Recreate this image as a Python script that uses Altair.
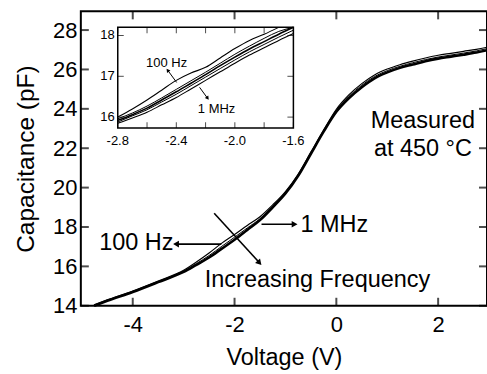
import altair as alt
import pandas as pd

FONT = "Liberation Sans"

# ---------------- main C-V curves ----------------
volt = [-4.76, -4.5, -4.0, -3.5, -3.0, -2.75, -2.5, -2.25, -2.0, -1.75, -1.5, -1.25, -1.0,
        -0.75, -0.5, -0.25, 0.0, 0.25, 0.5, 0.75, 1.0, 1.25, 1.5, 1.75, 2.0, 2.25, 2.5, 2.75, 3.0]
cap_100hz = [14.05, 14.3, 14.75, 15.26, 15.8, 16.22, 16.68, 17.18, 17.62, 18.08, 18.52, 19.12, 19.8,
             20.68, 21.8, 22.92, 23.98, 24.72, 25.28, 25.72, 26.02, 26.24, 26.42, 26.58, 26.72, 26.82, 26.92, 27.02, 27.15]
cap_mid = [14.02, 14.27, 14.72, 15.22, 15.75, 16.14, 16.55, 17.02, 17.48, 17.95, 18.42, 19.05, 19.74,
           20.64, 21.76, 22.88, 23.92, 24.64, 25.2, 25.64, 25.94, 26.16, 26.34, 26.5, 26.63, 26.73, 26.83, 26.94, 27.08]
cap_1mhz = [14.0, 14.25, 14.7, 15.2, 15.72, 16.08, 16.45, 16.9, 17.35, 17.85, 18.35, 19.0, 19.7,
            20.6, 21.72, 22.84, 23.85, 24.55, 25.1, 25.55, 25.85, 26.08, 26.25, 26.42, 26.55, 26.65, 26.75, 26.86, 27.0]

x_domain = [-5.02, 2.96]
y_domain = [14, 28.95]
x_ticks = [-4, -2, 0, 2]
y_ticks = [14, 16, 18, 20, 22, 24, 26, 28]

# annotation texts (centre positions)
ann_text = ["100 Hz", "1 MHz", "Increasing Frequency", "Measured", "at 450 °C"]
ann_v = [-3.93, -0.04, -0.37, 1.70, 1.70]
ann_c = [16.83, 17.74, 14.96, 23.04, 21.63]

# arrows: tail -> head
arr_v1 = [-2.26, -1.47, -2.40]
arr_c1 = [17.13, 18.14, 18.70]
arr_v2 = [-3.15, -0.82, -1.51]
arr_c2 = [17.13, 18.14, 16.18]
arr_angle = [180, 0, 48]

# ---------------- inset ----------------
in_volt = [-2.8, -2.7, -2.6, -2.5, -2.4, -2.3, -2.2, -2.1, -2.0, -1.9, -1.8, -1.7, -1.6]
in_c1 = [16.0, 16.2, 16.42, 16.66, 16.9, 17.08, 17.22, 17.45, 17.68, 17.88, 18.03, 18.2, None]
in_c2 = [15.96, 16.1, 16.27, 16.47, 16.68, 16.89, 17.1, 17.32, 17.54, 17.74, 17.93, 18.1, 18.2]
in_c3 = [15.92, 16.06, 16.22, 16.42, 16.62, 16.83, 17.04, 17.26, 17.47, 17.67, 17.85, 18.03, 18.2]
in_c4 = [15.88, 16.03, 16.18, 16.37, 16.56, 16.77, 16.98, 17.19, 17.4, 17.6, 17.78, 17.96, 18.13]
in_c5 = [15.85, 15.98, 16.12, 16.3, 16.48, 16.69, 16.9, 17.11, 17.32, 17.52, 17.7, 17.88, 18.05]

in_x_domain = [-2.8, -1.6]
in_y_domain = [15.73, 18.2]
in_x_ticks = [-2.8, -2.6, -2.4, -2.2, -2.0, -1.8, -1.6]
in_x_label_vals = [-2.8, -2.4, -2.0, -1.6]
in_x_label_text = ["-2.8", "-2.4", "-2.0", "-1.6"]
in_y_ticks = [16, 17, 18]
in_y_label_text = ["16", "17", "18"]

in_ann_text = ["100 Hz", "1 MHz"]
in_ann_v = [-2.466, -2.125]
in_ann_c = [17.22, 16.10]
in_arr_v1 = [-2.398, -2.241]
in_arr_c1 = [16.85, 16.73]
in_arr_v2 = [-2.459, -2.186]
in_arr_c2 = [17.15, 16.46]
in_arr_angle = [234, 54]

W, H = 407, 295
INSET_X_RANGE = [37, 213]
INSET_Y_RANGE = [117, 16]

# ---------------- main encodings ----------------
xs = alt.Scale(domain=x_domain, nice=False, zero=False)
ys = alt.Scale(domain=y_domain, nice=False, zero=False)
xaxis = alt.Axis(values=x_ticks, ticks=False, domain=False, grid=False, labelFontSize=22,
                 labelPadding=9, labelExpr="'' + datum.value", title="Voltage (V)",
                 titleFontSize=23.5, titleFontWeight="normal", titlePadding=10,
                 labelFont=FONT, titleFont=FONT)
yaxis = alt.Axis(values=y_ticks, ticks=False, domain=False, grid=False, labelFontSize=22,
                 labelPadding=4, labelExpr="'' + datum.value", title="Capacitance (pF)",
                 titleFontSize=24.5, titleFontWeight="normal", titlePadding=14,
                 labelFont=FONT, titleFont=FONT)


def X(f="V"):
    return alt.X(f, type="quantitative", scale=xs, axis=xaxis)


def Y(f="C"):
    return alt.Y(f, type="quantitative", scale=ys, axis=yaxis)


curves = pd.concat([
    pd.DataFrame({"V": volt, "C": cap_100hz, "s": "100 Hz"}),
    pd.DataFrame({"V": volt, "C": cap_mid, "s": "mid"}),
    pd.DataFrame({"V": volt, "C": cap_1mhz, "s": "1 MHz"}),
])
widths = {"100 Hz": 1.2, "mid": 1.0, "1 MHz": 2.6}
main_layers = []
for s, w in widths.items():
    main_layers.append(
        alt.Chart(curves[curves.s == s]).mark_line(color="black", strokeWidth=w, interpolate="monotone")
        .encode(x=X(), y=Y())
    )

# edge ticks (inward)
bt = pd.DataFrame({"V": x_ticks, "C": [y_domain[0]] * len(x_ticks)})
tt = pd.DataFrame({"V": x_ticks, "C": [y_domain[1]] * len(x_ticks)})
lt = pd.DataFrame({"V": [x_domain[0]] * len(y_ticks), "C": y_ticks})
rt = pd.DataFrame({"V": [x_domain[1]] * len(y_ticks), "C": y_ticks})
main_layers += [
    alt.Chart(bt).mark_tick(orient="vertical", size=8, thickness=2, yOffset=-4, color="black").encode(x=X(), y=Y()),
    alt.Chart(tt).mark_tick(orient="vertical", size=8, thickness=2, yOffset=4, color="black").encode(x=X(), y=Y()),
    alt.Chart(lt).mark_tick(orient="horizontal", size=8, thickness=2, xOffset=4, color="black").encode(x=X(), y=Y()),
    alt.Chart(rt).mark_tick(orient="horizontal", size=8, thickness=2, xOffset=-4, color="black").encode(x=X(), y=Y()),
]

ann = pd.DataFrame({"V": ann_v, "C": ann_c, "t": ann_text})
main_layers.append(
    alt.Chart(ann).mark_text(font=FONT, fontSize=23.5, align="center", baseline="alphabetic", color="black")
    .encode(x=X(), y=Y(), text="t:N")
)

arr = pd.DataFrame({"V": arr_v1, "C": arr_c1, "V2": arr_v2, "C2": arr_c2})
main_layers.append(
    alt.Chart(arr).mark_rule(color="black", strokeWidth=1.6)
    .encode(x=X(), y=Y(), x2=alt.X2("V2"), y2=alt.Y2("C2"))
)
for i, ang in enumerate(arr_angle):
    head = pd.DataFrame({"V": [arr_v2[i]], "C": [arr_c2[i]]})
    main_layers.append(
        alt.Chart(head).mark_point(shape="triangle-right", angle=ang, size=45, filled=True,
                                   color="black", opacity=1)
        .encode(x=X(), y=Y())
    )

main = alt.layer(*main_layers)

# ---------------- inset encodings ----------------
ixs = alt.Scale(domain=in_x_domain, range=INSET_X_RANGE, nice=False, zero=False)
iys = alt.Scale(domain=in_y_domain, range=INSET_Y_RANGE, nice=False, zero=False)


def IX(f="v"):
    return alt.X(f, type="quantitative", scale=ixs, axis=None)


def IY(f="c"):
    return alt.Y(f, type="quantitative", scale=iys, axis=None)


inset_layers = []
frame = pd.DataFrame({"v": [in_x_domain[0]], "v2": [in_x_domain[1]],
                      "c": [in_y_domain[0]], "c2": [in_y_domain[1]]})
inset_layers.append(
    alt.Chart(frame).mark_rect(fill="white", stroke="black", strokeWidth=1.5)
    .encode(x=IX(), x2=alt.X2("v2"), y=IY(), y2=alt.Y2("c2"))
)
in_series = [in_c1, in_c2, in_c3, in_c4, in_c5]
in_widths = [1.1, 1.0, 1.6, 1.0, 1.1]
for k, (ser, w) in enumerate(zip(in_series, in_widths)):
    df = pd.DataFrame({"v": in_volt, "c": ser}).dropna()
    inset_layers.append(
        alt.Chart(df).mark_line(color="black", strokeWidth=w, interpolate="monotone").encode(x=IX(), y=IY())
    )

ibt = pd.DataFrame({"v": in_x_ticks, "c": [in_y_domain[0]] * len(in_x_ticks)})
itt = pd.DataFrame({"v": in_x_ticks, "c": [in_y_domain[1]] * len(in_x_ticks)})
ilt = pd.DataFrame({"v": [in_x_domain[0]] * len(in_y_ticks), "c": in_y_ticks})
irt = pd.DataFrame({"v": [in_x_domain[1]] * len(in_y_ticks), "c": in_y_ticks})
inset_layers += [
    alt.Chart(ibt).mark_tick(orient="vertical", size=6, thickness=1, yOffset=-3, color="black").encode(x=IX(), y=IY()),
    alt.Chart(itt).mark_tick(orient="vertical", size=6, thickness=1, yOffset=3, color="black").encode(x=IX(), y=IY()),
    alt.Chart(ilt).mark_tick(orient="horizontal", size=6, thickness=1, xOffset=3, color="black").encode(x=IX(), y=IY()),
    alt.Chart(irt).mark_tick(orient="horizontal", size=6, thickness=1, xOffset=-3, color="black").encode(x=IX(), y=IY()),
]

ixl = pd.DataFrame({"v": in_x_label_vals, "c": [in_y_domain[0]] * len(in_x_label_vals), "t": in_x_label_text})
iyl = pd.DataFrame({"v": [in_x_domain[0]] * len(in_y_ticks), "c": in_y_ticks, "t": in_y_label_text})
inset_layers += [
    alt.Chart(ixl).mark_text(font=FONT, fontSize=13, align="center", baseline="middle", dy=13, color="black")
    .encode(x=IX(), y=IY(), text="t:N"),
    alt.Chart(iyl).mark_text(font=FONT, fontSize=13, align="right", baseline="middle", dx=-3, color="black")
    .encode(x=IX(), y=IY(), text="t:N"),
]

ian = pd.DataFrame({"v": in_ann_v, "c": in_ann_c, "t": in_ann_text})
inset_layers.append(
    alt.Chart(ian).mark_text(font=FONT, fontSize=13, align="center", baseline="alphabetic", color="black")
    .encode(x=IX(), y=IY(), text="t:N")
)
iarr = pd.DataFrame({"v": in_arr_v1, "c": in_arr_c1, "v2": in_arr_v2, "c2": in_arr_c2})
inset_layers.append(
    alt.Chart(iarr).mark_rule(color="black", strokeWidth=1)
    .encode(x=IX(), y=IY(), x2=alt.X2("v2"), y2=alt.Y2("c2"))
)
for i, ang in enumerate(in_arr_angle):
    head = pd.DataFrame({"v": [in_arr_v2[i]], "c": [in_arr_c2[i]]})
    inset_layers.append(
        alt.Chart(head).mark_point(shape="triangle-right", angle=ang, size=18, filled=True,
                                   color="black", opacity=1)
        .encode(x=IX(), y=IY())
    )

inset = alt.layer(*inset_layers)

chart = (
    alt.layer(main, inset)
    .resolve_scale(x="independent", y="independent")
    .properties(width=W, height=H, autosize=alt.AutoSizeParams(type="none"),
                padding={"left": 81, "top": 11, "right": 0, "bottom": 68})
    .configure_view(stroke="black", strokeWidth=2)
    .configure_axis(labelColor="black", titleColor="black")
)

chart.save("out.html", embed_options={"renderer": "svg", "actions": False})
